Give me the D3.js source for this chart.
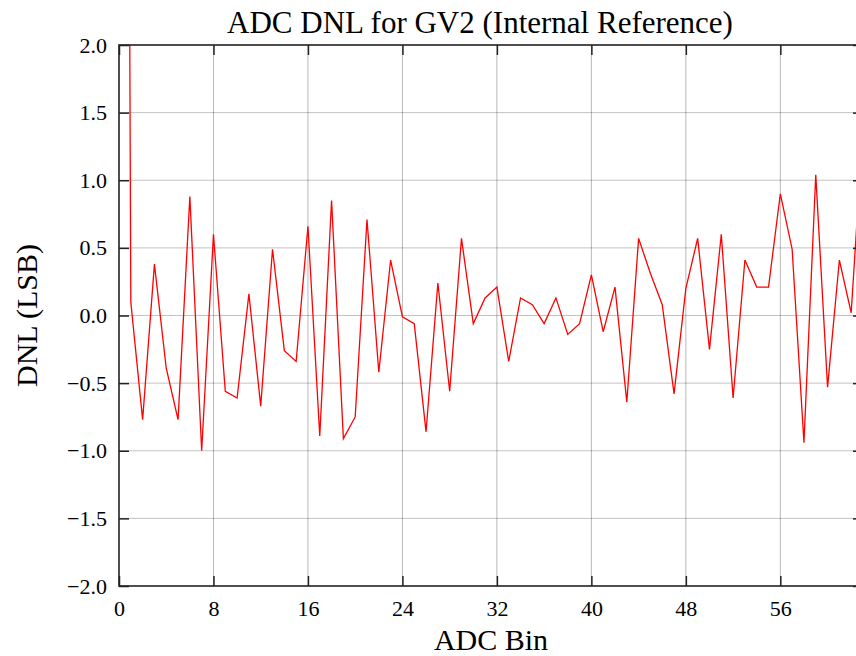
<!DOCTYPE html>
<html>
<head>
<meta charset="utf-8">
<script src="https://cdn.jsdelivr.net/npm/d3@7"></script>
<style>
  body { margin: 0; background: #fff; }
  svg { display: block; font-family: "Liberation Serif", "DejaVu Serif", serif; }
</style>
</head>
<body>
<div id="chart"></div>
<script>

// DNL per ADC bin (index = bin number), bin 0 is far off the top
var dnl = [
    22, 0.10, -0.77, 0.38, -0.39, -0.77, 0.88, -1.00, 0.60, -0.56,
    -0.61, 0.16, -0.67, 0.49, -0.26, -0.34, 0.66, -0.89, 0.85, -0.91,
    -0.75, 0.71, -0.42, 0.41, -0.01, -0.06, -0.86, 0.24, -0.56, 0.57,
    -0.06, 0.13, 0.21, -0.34, 0.13, 0.08, -0.06, 0.13, -0.14, -0.06,
    0.30, -0.12, 0.21, -0.64, 0.57, 0.31, 0.08, -0.58, 0.20, 0.57,
    -0.25, 0.60, -0.61, 0.41, 0.21, 0.21, 0.90, 0.49, -0.94, 1.04,
    -0.53, 0.41, 0.02, 1.40
];

var x_ticks = [0, 8, 16, 24, 32, 40, 48, 56];
var y_ticks = [-2.0, -1.5, -1.0, -0.5, 0.0, 0.5, 1.0, 1.5, 2.0];

var title   = "ADC DNL for GV2 (Internal Reference)";
var x_label = "ADC Bin";
var y_label = "DNL (LSB)";

// --------------------------------------------------------

var chart_width   = 856;
var chart_height  = 656;
var margin        = { top: 45, left: 119 };
var plot_w        = 744;   // plot runs past the right edge of the picture
var plot_h        = 541;

var svg = d3.select("#chart")
    .append("svg")
    .attr("width", chart_width)
    .attr("height", chart_height);

var x_scale = d3.scaleLinear()
    .domain([0, 63])
    .range([margin.left, margin.left + plot_w]);

var y_scale = d3.scaleLinear()
    .domain([-2, 2])
    .range([margin.top + plot_h, margin.top]);

var fmt = d3.format(".1f");

// --------------------------------------------------------
// grid

svg.append("g")
    .selectAll("line")
    .data(x_ticks.slice(1))
    .enter()
    .append("line")
    .attr("x1", (d) => x_scale(d))
    .attr("x2", (d) => x_scale(d))
    .attr("y1", margin.top)
    .attr("y2", margin.top + plot_h)
    .attr("stroke", "#000")
    .attr("stroke-opacity", 0.28)
    .attr("stroke-width", 1);

svg.append("g")
    .selectAll("line")
    .data(y_ticks.slice(1, -1))
    .enter()
    .append("line")
    .attr("x1", margin.left)
    .attr("x2", margin.left + plot_w)
    .attr("y1", (d) => y_scale(d))
    .attr("y2", (d) => y_scale(d))
    .attr("stroke", "#000")
    .attr("stroke-opacity", 0.24)
    .attr("stroke-width", 1);

// --------------------------------------------------------
// data line, clipped to the plot box

svg.append("clipPath")
    .attr("id", "clip")
    .append("rect")
    .attr("x", margin.left)
    .attr("y", margin.top)
    .attr("width", plot_w)
    .attr("height", plot_h);

var line = d3.line()
    .x((d, i) => x_scale(i))
    .y((d) => y_scale(d));

svg.append("path")
    .datum(dnl)
    .attr("clip-path", "url(#clip)")
    .attr("d", line)
    .attr("fill", "none")
    .attr("stroke", "#ff0000")
    .attr("stroke-width", 1.3)
    .attr("stroke-linejoin", "miter");

// --------------------------------------------------------
// axes: inward ticks on all four sides

var tick_len = 10;

svg.append("g")
    .attr("transform", "translate(0," + (margin.top + plot_h) + ")")
    .call(d3.axisBottom(x_scale).tickValues(x_ticks).tickSize(-tick_len).tickPadding(14).tickFormat(d3.format("d")))
    .call((g) => g.select(".domain").remove());

svg.append("g")
    .attr("transform", "translate(0," + margin.top + ")")
    .call(d3.axisTop(x_scale).tickValues(x_ticks).tickSize(-tick_len).tickFormat(""))
    .call((g) => g.select(".domain").remove());

svg.append("g")
    .attr("transform", "translate(" + margin.left + ",0)")
    .call(d3.axisLeft(y_scale).tickValues(y_ticks).tickSize(-tick_len).tickPadding(12).tickFormat(fmt))
    .call((g) => g.select(".domain").remove());

svg.append("g")
    .attr("transform", "translate(" + (margin.left + plot_w) + ",0)")
    .call(d3.axisRight(y_scale).tickValues(y_ticks).tickSize(-tick_len).tickFormat(""))
    .call((g) => g.select(".domain").remove());

svg.selectAll(".tick line")
    .attr("stroke", "#222")
    .attr("stroke-width", 1.5);

svg.selectAll(".tick text")
    .attr("fill", "#000")
    .style("font-family", "Liberation Serif, DejaVu Serif, serif")
    .style("font-size", "22px");

// frame
svg.append("rect")
    .attr("x", margin.left)
    .attr("y", margin.top)
    .attr("width", plot_w)
    .attr("height", plot_h)
    .attr("fill", "none")
    .attr("stroke", "#222")
    .attr("stroke-width", 1.6);

// --------------------------------------------------------
// texts

svg.append("text")
    .attr("x", 480)
    .attr("y", 33)
    .attr("text-anchor", "middle")
    .style("font-size", "31px")
    .text(title);

svg.append("text")
    .attr("x", 491)
    .attr("y", 650)
    .attr("text-anchor", "middle")
    .style("font-size", "30px")
    .text(x_label);

svg.append("text")
    .attr("transform", "translate(37," + (margin.top + plot_h / 2) + ") rotate(-90)")
    .attr("text-anchor", "middle")
    .style("font-size", "30px")
    .text(y_label);

</script>
</body>
</html>
